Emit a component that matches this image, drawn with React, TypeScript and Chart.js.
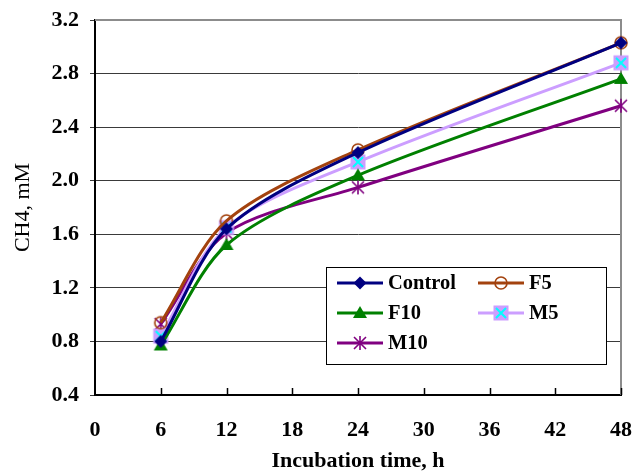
import { useEffect, useRef } from 'react';
import { Chart, registerables } from 'chart.js';

Chart.register(...registerables);

// Incubation times (h) and CH4 concentrations (mM) per treatment
const hours = [6, 12, 24, 48];
const control = [0.8, 1.64, 2.21, 3.03];
const f5 = [0.94, 1.7, 2.23, 3.03];
const f10 = [0.77, 1.52, 2.04, 2.76];
const m5 = [0.84, 1.65, 2.14, 2.88];
const m10 = [0.93, 1.61, 1.95, 2.56];

const seriesNames = ['Control', 'F5', 'F10', 'M5', 'M10'];
const seriesValues = [control, f5, f10, m5, m10];
const seriesColors = ['#000080', '#A3420E', '#008000', '#CC9EFF', '#800080'];
const markerKinds = ['diamond', 'circle', 'triangle', 'squareX', 'star'];

const xMin = 0;
const xMax = 48;
const xStep = 6;
const yMin = 0.4;
const yMax = 3.2;
const yStep = 0.4;

const FONT = '"Liberation Serif", "Times New Roman", serif';

function makeMarker(kind: string, color: string): HTMLCanvasElement {
  const s = 18;
  const c = document.createElement('canvas');
  c.width = s;
  c.height = s;
  const g = c.getContext('2d')!;
  const m = s / 2;
  g.lineCap = 'butt';
  switch (kind) {
    case 'diamond':
      g.fillStyle = color;
      g.beginPath();
      g.moveTo(m, m - 6.5);
      g.lineTo(m + 6.5, m);
      g.lineTo(m, m + 6.5);
      g.lineTo(m - 6.5, m);
      g.closePath();
      g.fill();
      break;
    case 'circle':
      g.strokeStyle = color;
      g.lineWidth = 1.6;
      g.beginPath();
      g.arc(m, m, 6, 0, Math.PI * 2);
      g.stroke();
      break;
    case 'triangle':
      g.fillStyle = color;
      g.beginPath();
      g.moveTo(m, m - 7);
      g.lineTo(m + 7, m + 5);
      g.lineTo(m - 7, m + 5);
      g.closePath();
      g.fill();
      break;
    case 'squareX':
      g.fillStyle = color;
      g.fillRect(m - 7.5, m - 7.5, 15, 15);
      g.strokeStyle = '#00FFFF';
      g.lineWidth = 2;
      g.beginPath();
      g.moveTo(m - 5, m - 5);
      g.lineTo(m + 5, m + 5);
      g.moveTo(m + 5, m - 5);
      g.lineTo(m - 5, m + 5);
      g.stroke();
      break;
    case 'star':
      g.strokeStyle = color;
      g.lineWidth = 1.6;
      g.beginPath();
      g.moveTo(m, m - 7);
      g.lineTo(m, m + 7);
      g.moveTo(m - 6, m - 6);
      g.lineTo(m + 6, m + 6);
      g.moveTo(m + 6, m - 6);
      g.lineTo(m - 6, m + 6);
      g.stroke();
      break;
  }
  return c;
}

export default function App() {
  const canvasRef = useRef<HTMLCanvasElement | null>(null);

  useEffect(() => {
    const canvas = canvasRef.current;
    if (!canvas) return;

    const markers = markerKinds.map((k, i) => makeMarker(k, seriesColors[i]));

    const datasets = seriesNames.map((name, i) => ({
      label: name,
      data: hours.map((h, j) => ({ x: h, y: seriesValues[i][j] })),
      borderColor: seriesColors[i],
      backgroundColor: seriesColors[i],
      borderWidth: 3,
      tension: 0.3,
      pointStyle: markers[i] as any,
      pointRadius: 6,
      pointHoverRadius: 6,
      clip: false as any,
    }));

    // Plot frame pieces: grey top/right border and inward x tick marks
    const framePlugin = {
      id: 'frame',
      beforeDatasetsDraw(chart: any) {
        const { ctx, chartArea } = chart;
        const { left, right, top, bottom } = chartArea;
        ctx.save();
        ctx.strokeStyle = '#8c8c8c';
        ctx.lineWidth = 2;
        ctx.beginPath();
        ctx.moveTo(left, top);
        ctx.lineTo(right, top);
        ctx.lineTo(right, bottom);
        ctx.stroke();

        const xs = chart.scales.x;
        ctx.strokeStyle = '#000';
        ctx.lineWidth = 1.5;
        ctx.beginPath();
        for (let v = xMin + xStep; v <= xMax; v += xStep) {
          const px = Math.round(xs.getPixelForValue(v)) + 0.5;
          ctx.moveTo(px, bottom);
          ctx.lineTo(px, bottom - 7);
        }
        ctx.stroke();
        ctx.restore();
      },
    };

    // Boxed legend in two columns inside the plot
    const legendPlugin = {
      id: 'boxLegend',
      afterDatasetsDraw(chart: any) {
        const { ctx, chartArea } = chart;
        const bx = chartArea.left + 231;
        const by = chartArea.top + 247;
        const bw = 280;
        const bh = 97;
        ctx.save();
        ctx.fillStyle = '#fff';
        ctx.fillRect(bx, by, bw, bh);
        ctx.strokeStyle = '#000';
        ctx.lineWidth = 1;
        ctx.strokeRect(bx + 0.5, by + 0.5, bw, bh);

        const colLine = [bx + 11, bx + 152];
        const colText = [bx + 62, bx + 203];
        const rowY = [by + 16, by + 46, by + 76];
        ctx.font = `bold 20.5px ${FONT}`;
        ctx.textBaseline = 'middle';
        ctx.textAlign = 'left';
        seriesNames.forEach((name, i) => {
          const col = i % 2;
          const row = Math.floor(i / 2);
          const x0 = colLine[col];
          const y = rowY[row];
          ctx.strokeStyle = seriesColors[i];
          ctx.lineWidth = 3;
          ctx.beginPath();
          ctx.moveTo(x0, y);
          ctx.lineTo(x0 + 46, y);
          ctx.stroke();
          const mk = markers[i];
          ctx.drawImage(mk, x0 + 23 - mk.width / 2, y - mk.height / 2);
          ctx.fillStyle = '#000';
          ctx.fillText(name, colText[col], y + 1);
        });
        ctx.restore();
      },
    };

    const chart = new Chart(canvas, {
      type: 'line',
      data: { datasets: datasets as any },
      options: {
        responsive: false,
        animation: false,
        devicePixelRatio: 1,
        layout: { padding: { top: 20, right: 12, left: 0, bottom: 0 } },
        plugins: {
          legend: { display: false },
          tooltip: { enabled: false },
        },
        scales: {
          x: {
            type: 'linear',
            min: xMin,
            max: xMax,
            afterFit(scale: any) {
              scale.height = 80;
              scale.paddingLeft = 0;
              scale.paddingRight = 0;
            },
            ticks: {
              stepSize: xStep,
              color: '#000',
              padding: 22,
              font: { family: FONT, size: 22, weight: 'bold' },
            },
            grid: { display: true, drawOnChartArea: false, drawTicks: false },
            border: { display: true, color: '#000', width: 2 },
            title: {
              display: true,
              text: 'Incubation time, h',
              color: '#000',
              padding: { top: 0, bottom: 0 },
              font: { family: FONT, size: 22, weight: 'bold' },
            },
          },
          y: {
            type: 'linear',
            min: yMin,
            max: yMax,
            afterFit(scale: any) {
              scale.width = 95;
              scale.paddingTop = 0;
              scale.paddingBottom = 0;
            },
            ticks: {
              stepSize: yStep,
              color: '#000',
              padding: 11,
              font: { family: FONT, size: 22, weight: 'bold' },
              callback: (v: any) => Number(v).toFixed(1),
            },
            grid: {
              color: '#3a3a3a',
              lineWidth: 1,
              drawTicks: true,
              tickLength: 5,
            },
            border: { display: true, color: '#000', width: 2 },
            title: {
              display: true,
              text: 'CH4, mM',
              color: '#000',
              padding: { top: 10, bottom: 0 },
              font: { family: FONT, size: 22, weight: 'normal' },
            },
          },
        },
      } as any,
      plugins: [framePlugin, legendPlugin],
    });

    return () => chart.destroy();
  }, []);

  return (
    <div style={{ position: 'fixed', left: 0, top: 0, width: 633, height: 475, background: '#fff' }}>
      <canvas ref={canvasRef} width={633} height={475} />
    </div>
  );
}
